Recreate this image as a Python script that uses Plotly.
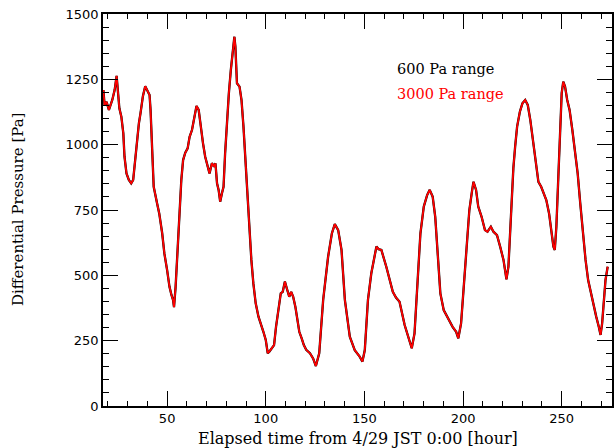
import plotly.graph_objects as go

# Elapsed time [hour] and differential pressure [Pa]
hours = [17.7, 18.3, 19.3, 20.5, 22.2, 23.4, 24.4, 25.1, 25.8, 26.8, 27.8, 28.4, 29.4, 30.6, 31.8, 32.8,
         33.6, 34.5, 35.7, 36.5, 37.7, 38.9, 39.9, 41.1, 41.6, 42.4, 43.2, 44.9, 46.0, 47.5, 48.6, 50.0,
         51.2, 52.2, 53.0, 53.5, 54.3, 55.4, 56.4, 57.2, 58.1, 59.2, 60.4, 61.4, 62.6, 63.8, 64.9, 66.0,
         67.2, 68.2, 69.3, 70.5, 71.5, 72.7, 73.9, 74.5, 75.3, 76.1, 76.9, 77.8, 78.6, 79.4, 80.3, 81.3,
         82.3, 83.1, 84.1, 84.6, 85.4, 86.7, 87.7, 88.7, 89.7, 90.7, 91.7, 92.7, 93.7, 94.9, 96.3, 97.5,
         98.8, 100.0, 101.0, 101.8, 103.0, 104.2, 105.2, 106.4, 107.6, 108.6, 109.7, 110.9, 111.9, 112.9,
         113.9, 115.0, 116.0, 117.0, 118.2, 119.3, 120.5, 122.4, 124.0, 125.4, 127.1, 129.1, 131.6, 133.5,
         135.0, 136.7, 138.4, 140.1, 142.6, 145.1, 147.6, 149.0, 150.2, 151.8, 153.5, 156.1, 157.2, 158.6,
         161.1, 162.5, 164.4, 166.0, 167.8, 170.4, 172.0, 174.0, 175.4, 177.1, 178.4, 180.1, 181.8, 183.1,
         184.6, 185.9, 187.2, 188.5, 190.2, 192.2, 194.7, 196.5, 197.6, 199.0, 200.3, 201.7, 203.2, 204.5,
         205.3, 206.6, 207.7, 209.4, 211.1, 212.4, 214.1, 215.4, 217.2, 218.8, 220.5, 221.4, 222.0, 223.0,
         223.9, 225.0, 225.5, 226.4, 227.4, 228.8, 230.1, 231.5, 232.8, 234.1, 235.5, 236.9, 238.2, 239.6,
         240.9, 242.2, 243.6, 244.8, 245.8, 246.5, 247.3, 248.3, 249.1, 250.0, 250.8, 251.7, 252.8, 254.0,
         255.4, 256.7, 258.1, 259.4, 260.8, 262.1, 263.4, 264.8, 266.2, 267.5, 268.8, 269.7, 270.5, 271.4,
         272.2, 273.3]

pa_3000 = [1209, 1152, 1164, 1133, 1171, 1209, 1263, 1209, 1139, 1107, 1043, 954, 890, 865, 852, 865,
           929, 1005, 1082, 1120, 1184, 1224, 1209, 1190, 1133, 941, 839, 776, 737, 661, 584, 520,
           456, 425, 406, 378, 456, 610, 763, 865, 941, 969, 986, 1030, 1056, 1101, 1148, 1133,
           1056, 1005, 954, 916, 890, 929, 916, 929, 852, 827, 782, 814, 839, 967, 1082, 1197,
           1286, 1337, 1413, 1375, 1235, 1222, 1171, 1069, 941, 801, 686, 559, 470, 393, 342, 316,
           284, 253, 202, 208, 221, 233, 303, 367, 431, 437, 476, 444, 418, 437,
           418, 380, 329, 284, 259, 233, 215, 202, 182, 153, 202, 406, 571, 660,
           696, 673, 597, 406, 265, 214, 189, 170, 214, 406, 508, 610, 600, 597,
           533, 490, 437, 415, 399, 310, 272, 221, 278, 482, 661, 763, 807, 827,
           801, 724, 559, 431, 367, 336, 303, 284, 259, 316, 456, 610, 750, 820,
           858, 827, 763, 724, 673, 667, 686, 667, 654, 610, 559, 514, 485, 533,
           686, 839, 910, 992, 1069, 1126, 1158, 1171, 1152, 1094, 1005, 916, 858, 839,
           814, 788, 737, 673, 610, 597, 686, 877, 1069, 1197, 1241, 1222, 1171, 1133,
           1056, 980, 890, 776, 648, 559, 482, 431, 393, 342, 303, 272, 316, 406,
           482, 533]

# The 600 Pa range sensor coincides with the 3000 Pa range trace in the picture
pa_600 = list(pa_3000)

x_ticks = [50, 100, 150, 200, 250]
y_ticks = [0, 250, 500, 750, 1000, 1250, 1500]

fig = go.Figure()
fig.add_trace(go.Scatter(x=hours, y=pa_600, mode="lines", name="600 Pa range",
                         line=dict(color="black", width=2.3), showlegend=False))
fig.add_trace(go.Scatter(x=hours, y=pa_3000, mode="lines", name="3000 Pa range",
                         line=dict(color="#ff0000", width=1.8), showlegend=False))

axis_common = dict(
    showline=True, linecolor="black", linewidth=1.5, mirror="allticks",
    ticks="inside", tickcolor="black", tickwidth=1.2,
    showgrid=False, zeroline=False,
    tickfont=dict(family="DejaVu Sans", size=13, color="black"),
)

fig.update_xaxes(
    range=[17.5, 275.5], tickvals=x_ticks, ticklen=15,
    minor=dict(dtick=10, tick0=0, ticks="inside", ticklen=5, tickcolor="black", tickwidth=1),
    **axis_common,
)
fig.update_yaxes(
    range=[0, 1500], tickvals=y_ticks, ticklen=15,
    minor=dict(dtick=50, tick0=0, ticks="inside", ticklen=6, tickcolor="black", tickwidth=1),
    **axis_common,
)

fig.add_annotation(x=0.5, y=0, xref="paper", yref="paper", xanchor="center", yanchor="middle",
                   yshift=-32, text="Elapsed time from 4/29 JST 0:00 [hour]", showarrow=False,
                   font=dict(family="DejaVu Serif", size=16, color="black"))
fig.add_annotation(x=0, y=0.5, xref="paper", yref="paper", xanchor="center", yanchor="middle",
                   xshift=-85, textangle=-90, text="Differential Pressure [Pa]", showarrow=False,
                   font=dict(family="DejaVu Serif", size=15, color="black"))

fig.add_annotation(x=0.574, y=0.86, xref="paper", yref="paper", xanchor="left", yanchor="middle",
                   text="600 Pa range", showarrow=False,
                   font=dict(family="DejaVu Serif", size=14.5, color="black"))
fig.add_annotation(x=0.574, y=0.796, xref="paper", yref="paper", xanchor="left", yanchor="middle",
                   text="3000 Pa range", showarrow=False,
                   font=dict(family="DejaVu Serif", size=14.5, color="#ff0000"))

fig.update_layout(
    width=616, height=448,
    margin=dict(l=103, r=4, t=14, b=42, autoexpand=False),
    paper_bgcolor="white", plot_bgcolor="white",
    showlegend=False,
)

fig.write_html("out.html", config={"displayModeBar": False},
               post_script="document.body.style.margin='0px';document.body.style.overflow='hidden';")
